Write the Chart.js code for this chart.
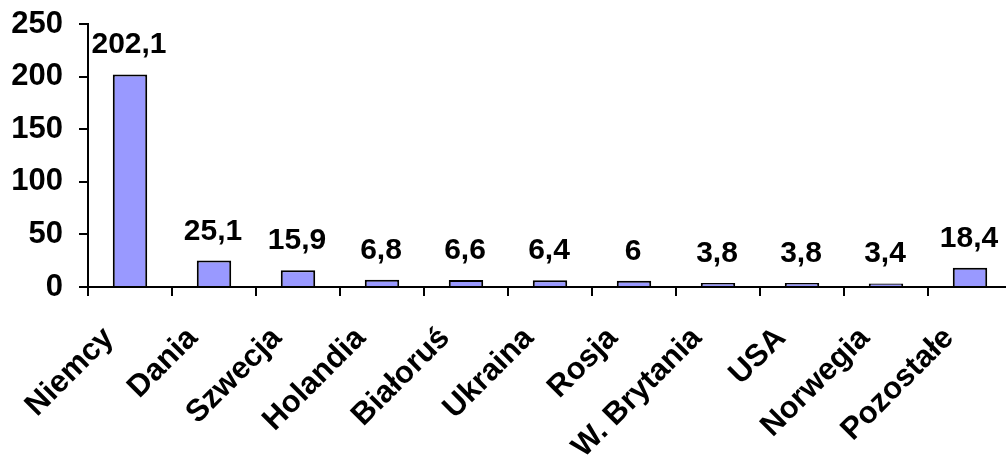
<!DOCTYPE html>
<html>
<head>
<meta charset="utf-8">
<script src="https://cdn.jsdelivr.net/npm/chart.js@4.4.0/dist/chart.umd.min.js"></script>
<style>
  html, body { margin: 0; padding: 0; background: #fff; overflow: hidden; }
  #wrap { width: 1012px; height: 456px; }
</style>
</head>
<body>
<div id="wrap"><canvas id="exportChart"></canvas></div>
<script>
// Data
const countries = ['Niemcy', 'Dania', 'Szwecja', 'Holandia', 'Białoruś', 'Ukraina', 'Rosja', 'W. Brytania', 'USA', 'Norwegia', 'Pozostałe'];
const values = [202.1, 25.1, 15.9, 6.8, 6.6, 6.4, 6, 3.8, 3.8, 3.4, 18.4];
const yTicks = [0, 50, 100, 150, 200, 250];

const FONT = 'Arial, "Liberation Sans", sans-serif';

// Draw value labels above every bar
const valueLabels = {
  id: 'valueLabels',
  afterDatasetsDraw(chart) {
    const ctx = chart.ctx;
    const meta = chart.getDatasetMeta(0);
    ctx.save();
    ctx.font = 'bold 30px ' + FONT;
    ctx.fillStyle = '#000';
    ctx.textAlign = 'center';
    ctx.textBaseline = 'alphabetic';
    meta.data.forEach((bar, i) => {
      const txt = String(values[i]).replace('.', ',');
      ctx.fillText(txt, bar.x - 1, bar.y - 21);
    });
    ctx.restore();
  }
};

const ctx = document.getElementById('exportChart').getContext('2d');
const exportChart = new Chart(ctx, {
  type: 'bar',
  data: {
    labels: countries,
    datasets: [{
      data: values,
      backgroundColor: '#9999FF',
      borderColor: '#000',
      borderWidth: 2,
      categoryPercentage: 1,
      barPercentage: 0.41
    }]
  },
  options: {
    responsive: true,
    maintainAspectRatio: false,
    animation: false,
    layout: { padding: { top: 24, right: 0, left: 0, bottom: 0 } },
    plugins: {
      legend: { display: false },
      tooltip: { enabled: false }
    },
    scales: {
      x: {
        grid: {
          display: true,
          drawOnChartArea: false,
          drawTicks: true,
          tickLength: 9,
          color: '#000',
          lineWidth: 2,
          offset: true
        },
        border: { display: true, color: '#000', width: 2 },
        ticks: {
          color: '#000',
          font: { family: FONT, size: 31, weight: 'bold' },
          maxRotation: 45,
          minRotation: 45,
          padding: 24,
          labelOffset: -21,
          autoSkip: false
        },
        afterFit(scale) {
          scale.height = 456 - 287;
          scale.paddingLeft = 0;
          scale.paddingRight = 0;
        }
      },
      y: {
        min: 0,
        max: 250,
        afterBuildTicks(scale) { scale.ticks = yTicks.map(v => ({ value: v })); },
        grid: {
          display: true,
          drawOnChartArea: false,
          drawTicks: true,
          tickLength: 9,
          color: '#000',
          lineWidth: 2
        },
        border: { display: true, color: '#000', width: 2 },
        ticks: {
          color: '#000',
          font: { family: FONT, size: 31, weight: 'bold' },
          padding: 16
        },
        afterFit(scale) {
          scale.width = 88;
          scale.paddingTop = 0;
          scale.paddingBottom = 0;
        }
      }
    }
  },
  plugins: [valueLabels]
});
</script>
</body>
</html>
